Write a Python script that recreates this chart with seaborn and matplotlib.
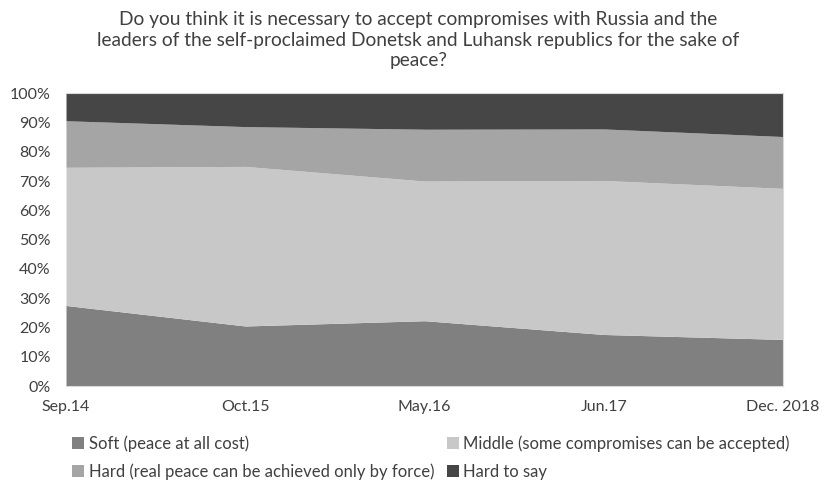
import numpy as np
import matplotlib
matplotlib.use("Agg")
import matplotlib.pyplot as plt
import seaborn as sns
from matplotlib.patches import Patch

sns.set_theme(style="white")
plt.rcParams['font.family'] = ['Lato', 'DejaVu Sans']

#----------------------------------
# Data (share of respondents, %)
#----------------------------------
periods = ["Sep.14", "Oct.15", "May.16", "Jun.17", "Dec. 2018"]
soft = [27.5, 20.5, 22.3, 17.6, 15.9]
middle = [47.2, 54.5, 47.7, 52.6, 51.6]
hard = [15.9, 13.6, 17.7, 17.6, 17.7]
hard_to_say = [9.4, 11.4, 12.3, 12.2, 14.8]

labels = ["Soft (peace at all cost)",
          "Middle (some compromises can be accepted)",
          "Hard (real peace can be achieved only by force)",
          "Hard to say"]
colors = ["#808080", "#c8c8c8", "#a5a5a5", "#464646"]

title = ("Do you think it is necessary to accept compromises with Russia and the\n"
         "leaders of the self-proclaimed Donetsk and Luhansk republics for the sake of\n"
         "peace?")

#----------------------------------
# Plot
#----------------------------------
fig = plt.figure(figsize=(8.22, 4.88), dpi=100)
ax = fig.add_axes([0.0803, 0.209, 0.8723, 0.6])

x = np.arange(len(periods))
ax.stackplot(x, soft, middle, hard, hard_to_say, colors=colors, linewidth=0)

ax.set_xlim(0, len(periods) - 1)
ax.set_ylim(0, 100)
ax.set_xticks(x)
ax.set_xticklabels(periods)
ax.set_yticks(np.arange(0, 101, 10))
ax.set_yticklabels([f"{v}%" for v in range(0, 101, 10)])
ax.tick_params(axis='both', labelsize=11.5, colors="#404040", length=0)
ax.tick_params(axis='y', pad=11)
ax.tick_params(axis='x', pad=10)

for s in ax.spines.values():
    s.set_color("#d9d9d9")
    s.set_linewidth(0.8)
ax.spines['left'].set_visible(False)

fig.text(0.509, 0.978, title, ha='center', va='top', fontsize=13.8,
         color="#404040", linespacing=1.27)

# legend: two columns, Soft/Middle on top, Hard/Hard to say below
h = [Patch(facecolor=c, edgecolor='none') for c in colors]
order = [0, 2, 1, 3]
fig.legend([h[i] for i in order], [labels[i] for i in order], ncol=2,
           loc='upper left', bbox_to_anchor=(0.088, 0.108), frameon=False,
           fontsize=12, handlelength=0.72, handleheight=0.72,
           handletextpad=0.25, columnspacing=0.75, labelspacing=0.7,
           borderpad=0, borderaxespad=0, labelcolor="#404040")

fig.savefig("out.png", dpi=100)
